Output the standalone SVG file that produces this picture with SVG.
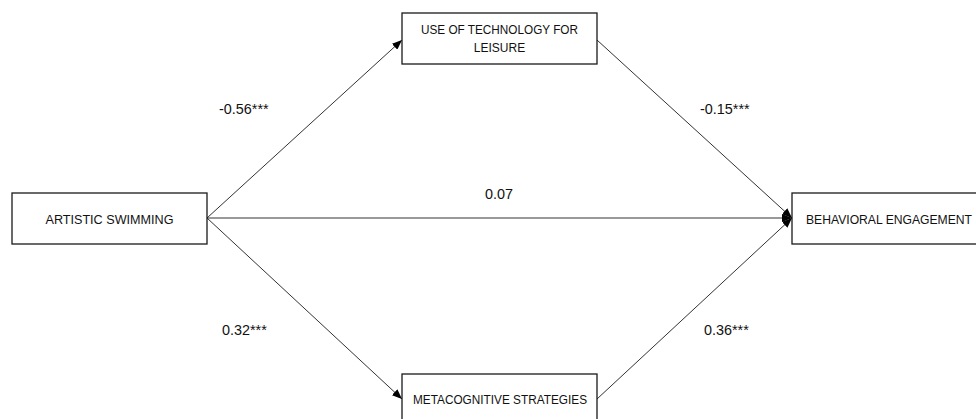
<svg xmlns="http://www.w3.org/2000/svg" width="976" height="419" viewBox="0 0 976 419">
  <style>
    .box { fill: #ffffff; stroke: #1a1a1a; stroke-width: 1.3; }
    .node-text { font-family: "Liberation Sans", Arial, sans-serif; font-size: 12px; fill: #111; text-anchor: middle; }
    .coef { font-family: "Liberation Sans", Arial, sans-serif; font-size: 14.4px; fill: #111; }
    .edge { stroke: #333; stroke-width: 1; fill: none; marker-end: url(#arrow); }
  </style>
  <defs>
    <marker id="arrow" markerUnits="userSpaceOnUse" markerWidth="10" markerHeight="8" refX="10" refY="4" orient="auto">
      <path d="M0,0 L10,4 L0,8 z" fill="#000"/>
    </marker>
  </defs>
  <rect width="976" height="419" fill="#ffffff"/>

  <!-- connectors -->
  <g id="connectors">
    <line class="edge" x1="207" y1="218" x2="402" y2="40"/>
    <line class="edge" x1="597" y1="40" x2="792" y2="218"/>
    <line class="edge" x1="207" y1="218" x2="792" y2="218"/>
    <line class="edge" x1="207" y1="218" x2="402" y2="399"/>
    <line class="edge" x1="597" y1="399" x2="792" y2="218"/>
  </g>

  <!-- path coefficients -->
  <g id="coefficients">
    <text class="coef" x="219" y="114">-0.56***</text>
    <text class="coef" x="700" y="114">-0.15***</text>
    <text class="coef" x="499" y="199" text-anchor="middle">0.07</text>
    <text class="coef" x="222" y="335">0.32***</text>
    <text class="coef" x="704" y="335">0.36***</text>
  </g>

  <g id="artistic-swimming">
    <rect class="box" x="12" y="193" width="195" height="51"/>
    <text class="node-text" x="109.5" y="224" textLength="128" lengthAdjust="spacingAndGlyphs">ARTISTIC SWIMMING</text>
  </g>

  <g id="technology-leisure">
    <rect class="box" x="402" y="13" width="195" height="51"/>
    <text class="node-text" x="499.5" y="34" textLength="157" lengthAdjust="spacingAndGlyphs">USE OF TECHNOLOGY FOR</text>
    <text class="node-text" x="499.5" y="52">LEISURE</text>
  </g>

  <g id="metacognitive-strategies">
    <rect class="box" x="402" y="374" width="195" height="51"/>
    <text class="node-text" x="500" y="404" textLength="174" lengthAdjust="spacingAndGlyphs">METACOGNITIVE STRATEGIES</text>
  </g>

  <g id="behavioral-engagement">
    <rect class="box" x="792" y="193" width="195" height="51"/>
    <text class="node-text" x="889" y="224" textLength="166" lengthAdjust="spacingAndGlyphs">BEHAVIORAL ENGAGEMENT</text>
  </g>
</svg>
